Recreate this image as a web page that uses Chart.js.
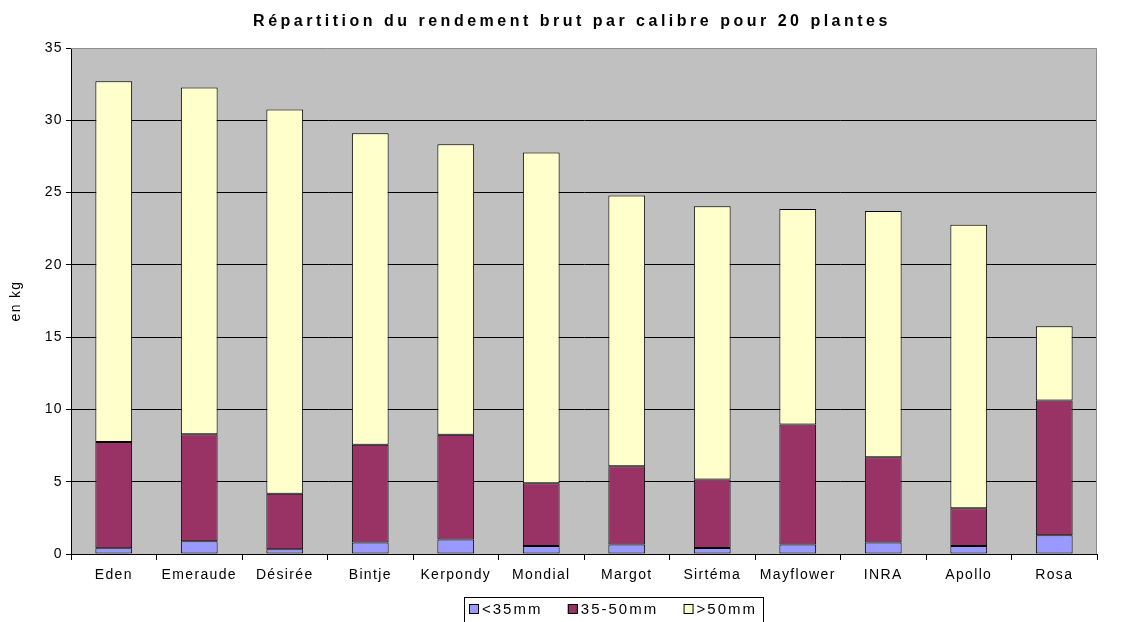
<!DOCTYPE html>
<html lang="fr">
<head>
    <meta charset="UTF-8">
    <title>Répartition du rendement brut par calibre</title>
    <script src="https://cdn.jsdelivr.net/npm/chart.js@4.4.1/dist/chart.umd.min.js"></script>
    <style>
        html, body { margin: 0; padding: 0; background: #fff; }
        #wrap { width: 1141px; height: 622px; }
    </style>
</head>
<body>
<div id="wrap"><canvas id="chart" width="1141" height="622"></canvas></div>
<script>
// varieties (x categories)
const varietes = ['Eden', 'Emeraude', 'Désirée', 'Bintje', 'Kerpondy', 'Mondial',
                  'Margot', 'Sirtéma', 'Mayflower', 'INRA', 'Apollo', 'Rosa'];

// kg per size class
const petits  = [0.40, 0.88, 0.33, 0.80, 1.00, 0.55, 0.65, 0.42, 0.65, 0.80, 0.55, 1.30];  // <35mm
const moyens  = [7.34, 7.41, 3.83, 6.75, 7.24, 4.35, 5.42, 4.73, 8.31, 5.90, 2.61, 9.32];  // 35-50mm
const gros    = [24.96, 23.98, 26.59, 21.55, 20.11, 22.87, 18.72, 18.91, 14.91, 17.03, 19.62, 5.13]; // >50mm

const yTicks = [0, 5, 10, 15, 20, 25, 30, 35];

const titre = 'Répartition du rendement brut par calibre pour 20 plantes';

const FONT = 'Liberation Sans, Arial, sans-serif';
const SPACING = '1.35px';   // the old excel export spaces its letters out

// grey plot background + thin border, and the letter spacing for axis text
const plotBg = {
    id: 'plotBg',
    beforeDraw(chart) {
        const { ctx, chartArea: a } = chart;
        ctx.save();
        ctx.fillStyle = '#c0c0c0';
        ctx.fillRect(a.left, a.top, a.right - a.left, a.bottom - a.top);
        ctx.restore();
        ctx.letterSpacing = SPACING;
    },
    afterDatasetsDraw(chart) {
        const { ctx, chartArea: a } = chart;
        ctx.save();
        ctx.strokeStyle = '#8c8c8c';
        ctx.lineWidth = 1;
        ctx.beginPath();
        ctx.moveTo(a.left, a.top + 0.5);
        ctx.lineTo(a.right - 0.5, a.top + 0.5);
        ctx.lineTo(a.right - 0.5, a.bottom);
        ctx.stroke();
        ctx.restore();
    }
};

// title drawn by hand so it can get the wide spacing
const titrePlugin = {
    id: 'titrePlugin',
    afterDraw(chart) {
        const { ctx } = chart;
        ctx.save();
        ctx.font = 'bold 16px ' + FONT;
        ctx.letterSpacing = '3.5px';
        ctx.fillStyle = '#000';
        ctx.textAlign = 'center';
        ctx.textBaseline = 'middle';
        ctx.fillText(titre, 572, 22);
        ctx.restore();
    }
};

// boxed legend like the excel one
const boxLegend = {
    id: 'boxLegend',
    afterDraw(chart) {
        const { ctx } = chart;
        const x0 = 464, y0 = 597, w = 300, h = 26;
        ctx.save();
        ctx.letterSpacing = '2px';
        ctx.fillStyle = '#fff';
        ctx.fillRect(x0, y0, w, h);
        ctx.strokeStyle = '#000';
        ctx.lineWidth = 1;
        ctx.strokeRect(x0 + 0.5, y0 + 0.5, w - 1, h);
        ctx.font = '15px ' + FONT;
        ctx.textBaseline = 'middle';
        const sets = chart.data.datasets;
        const widths = sets.map(ds => 13 + ctx.measureText(ds.label).width);
        const gap = (w - 12 - widths.reduce((s, v) => s + v, 0)) / (sets.length - 1);
        let x = x0 + 5;
        const cy = y0 + 12;
        sets.forEach((ds, i) => {
            ctx.fillStyle = ds.backgroundColor;
            ctx.fillRect(x, cy - 5, 10, 10);
            ctx.strokeStyle = '#000';
            ctx.strokeRect(x + 0.5, cy - 4.5, 9, 9);
            ctx.fillStyle = '#000';
            ctx.fillText(ds.label, x + 13, cy + 1);
            x += widths[i] + gap;
        });
        ctx.restore();
    }
};

const barStyle = {
    borderColor: '#000',
    borderWidth: 1,
    borderSkipped: false,
    barPercentage: 0.43,
    categoryPercentage: 1.0
};

new Chart(document.getElementById('chart'), {
    type: 'bar',
    data: {
        labels: varietes,
        datasets: [
            { label: '<35mm', data: petits, backgroundColor: '#9999ff', ...barStyle },
            { label: '35-50mm', data: moyens, backgroundColor: '#993366', ...barStyle },
            { label: '>50mm', data: gros, backgroundColor: '#ffffcc', ...barStyle }
        ]
    },
    options: {
        responsive: false,
        animation: false,
        layout: { padding: { left: 0, right: 44, top: 48, bottom: 0 } },
        plugins: {
            legend: { display: false },
            tooltip: { enabled: false },
            title: { display: false }
        },
        scales: {
            x: {
                stacked: true,
                afterFit: s => { s.height = 68; },
                grid: {
                    offset: true,
                    drawOnChartArea: false,
                    drawTicks: true,
                    tickLength: 6,
                    color: '#000'
                },
                border: { color: '#000', width: 1 },
                ticks: {
                    color: '#000',
                    font: { family: FONT, size: 14 },
                    padding: 7,
                    maxRotation: 0,
                    autoSkip: false
                }
            },
            y: {
                stacked: true,
                min: 0,
                max: 35,
                afterFit: s => { s.width = 71; },
                afterBuildTicks: s => { s.ticks = yTicks.map(v => ({ value: v })); },
                grid: {
                    color: c => (c.tick && c.tick.value === 35) ? 'rgba(0,0,0,0)' : '#000',
                    tickColor: '#000',
                    tickLength: 5,
                    lineWidth: 1
                },
                border: { color: '#000', width: 1 },
                ticks: {
                    color: '#000',
                    font: { family: FONT, size: 14 },
                    padding: 3
                },
                title: {
                    display: true,
                    text: 'en kg',
                    color: '#000',
                    font: { family: FONT, size: 14 },
                    padding: { top: 8, bottom: 0 }
                }
            }
        }
    },
    plugins: [plotBg, titrePlugin, boxLegend]
});
</script>
</body>
</html>
